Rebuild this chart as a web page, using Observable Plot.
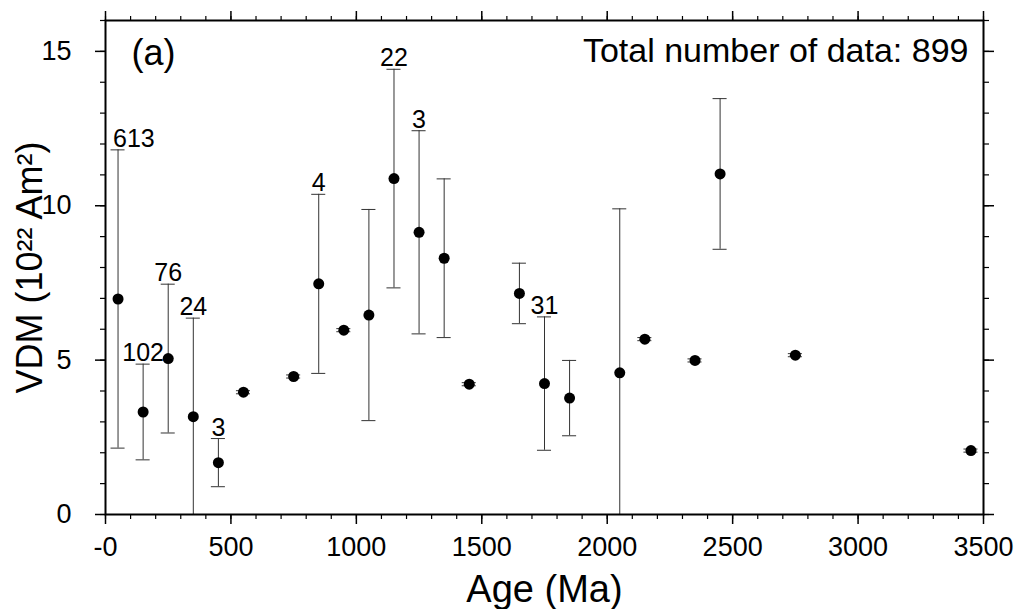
<!DOCTYPE html>
<html><head><meta charset="utf-8">
<script src="https://cdn.jsdelivr.net/npm/d3@7"></script>
<script src="https://cdn.jsdelivr.net/npm/@observablehq/plot@0.6"></script>
<style>body{margin:0;background:#fff;} svg{display:block;}</style>
</head><body><div id="chart"></div>
<script>
const ages = [50,150,250,350,450,550,750,850,950,1050,1150,1250,1350,1450,1650,1750,1850,2050,2150,2350,2450,2750,3450];
const vdm  = [6.98,3.32,5.05,3.17,1.68,3.96,4.47,7.47,5.97,6.46,10.88,9.14,8.30,4.22,7.16,4.24,3.77,4.59,5.68,4.99,11.03,5.16,2.07];
const err  = [4.83,1.55,2.41,3.19,0.78,0.05,0.05,2.90,0.05,3.42,3.54,3.29,2.57,0.05,0.98,2.16,1.22,5.31,0.05,0.05,2.44,0.05,0.05];
const counts = ["613","102","76","24","3","","","4","","","22","3","","","","31","","","","","","",""];

const xTicks = [0,500,1000,1500,2000,2500,3000,3500];
const xTickLabels = ["-0","500","1000","1500","2000","2500","3000","3500"];
const yTicks = [0,5,10,15];
const yTickLabels = ["0","5","10","15"];
const xLabel = "Age (Ma)";
const yLabel = "VDM (10²² Am²)";
const panelLabel = "(a)";
const totalLabel = "Total number of data: 899";

const data = ages.map((a,i) => ({age:a, v:vdm[i], lo:vdm[i]-err[i], hi:vdm[i]+err[i], n:counts[i]}));
const labelled = data.filter(d => d.n !== "");
const capHalf = 28;
const font = "Liberation Sans, Arial, Helvetica, sans-serif";
const none = () => "";

const chart = Plot.plot({
  width: 1015, height: 609,
  marginLeft: 105, marginRight: 32, marginTop: 20, marginBottom: 95,
  style: {fontFamily: font, background: "#fff", color: "#000"},
  x: {domain: [0,3500]},
  y: {domain: [0,16]},
  marks: [
    // minor ticks
    Plot.axisX(d3.range(0,3501,100), {anchor:"bottom", tickSize:5, tickFormat:none, label:null, strokeWidth:1.2}),
    Plot.axisX(d3.range(0,3501,100), {anchor:"top", tickSize:5, tickFormat:none, label:null, strokeWidth:1.2}),
    Plot.axisY(d3.range(0,17,1), {anchor:"left", tickSize:5, tickFormat:none, label:null, strokeWidth:1.2}),
    Plot.axisY(d3.range(0,17,1), {anchor:"right", tickSize:5, tickFormat:none, label:null, strokeWidth:1.2}),
    // major ticks
    Plot.axisX(xTicks, {anchor:"bottom", tickSize:10, tickPadding:12, tickFormat:(d,i)=>xTickLabels[i], label:null, fontSize:27, strokeWidth:1.5}),
    Plot.axisX(xTicks, {anchor:"top", tickSize:10, tickFormat:none, label:null, strokeWidth:1.5}),
    Plot.axisY(yTicks, {anchor:"left", tickSize:10, tickPadding:24, tickFormat:(d,i)=>yTickLabels[i], label:null, fontSize:27, strokeWidth:1.5}),
    Plot.axisY(yTicks, {anchor:"right", tickSize:10, tickFormat:none, label:null, strokeWidth:1.5}),
    // error bars
    Plot.ruleX(data, {x:"age", y1:"lo", y2:"hi", stroke:"#333", strokeWidth:1, clip:true}),
    Plot.ruleY(data, {y:"hi", x1:d=>d.age-capHalf, x2:d=>d.age+capHalf, stroke:"#333", strokeWidth:1, clip:true}),
    Plot.ruleY(data, {y:"lo", x1:d=>d.age-capHalf, x2:d=>d.age+capHalf, stroke:"#333", strokeWidth:1, clip:true}),
    Plot.dot(data, {x:"age", y:"v", r:5.5, fill:"#000", stroke:null}),
    // count labels
    Plot.text(labelled.filter(d=>d.age<100), {x:"age", y:"hi", text:"n", textAnchor:"start", lineAnchor:"bottom", dx:-5, dy:-3, fontSize:25, fill:"#000"}),
    Plot.text(labelled.filter(d=>d.age>=100), {x:"age", y:"hi", text:"n", textAnchor:"middle", lineAnchor:"bottom", dy:-3, fontSize:25, fill:"#000"}),
    Plot.frame({stroke:"#000", strokeWidth:2}),
    Plot.text([panelLabel], {frameAnchor:"top-left", textAnchor:"start", lineAnchor:"bottom", dx:26, dy:44, fontSize:36, fill:"#000"}),
    Plot.text([totalLabel], {frameAnchor:"top-right", textAnchor:"end", lineAnchor:"bottom", dx:-15, dy:41, fontSize:34, fill:"#000"}),
    Plot.text([xLabel], {frameAnchor:"bottom", textAnchor:"middle", lineAnchor:"bottom", dy:87, fontSize:38, fill:"#000"}),
    Plot.text([yLabel], {frameAnchor:"left", textAnchor:"middle", lineAnchor:"bottom", rotate:-90, dx:-64, fontSize:36, fill:"#000"})
  ]
});
document.getElementById("chart").appendChild(chart);
</script>
</body></html>
